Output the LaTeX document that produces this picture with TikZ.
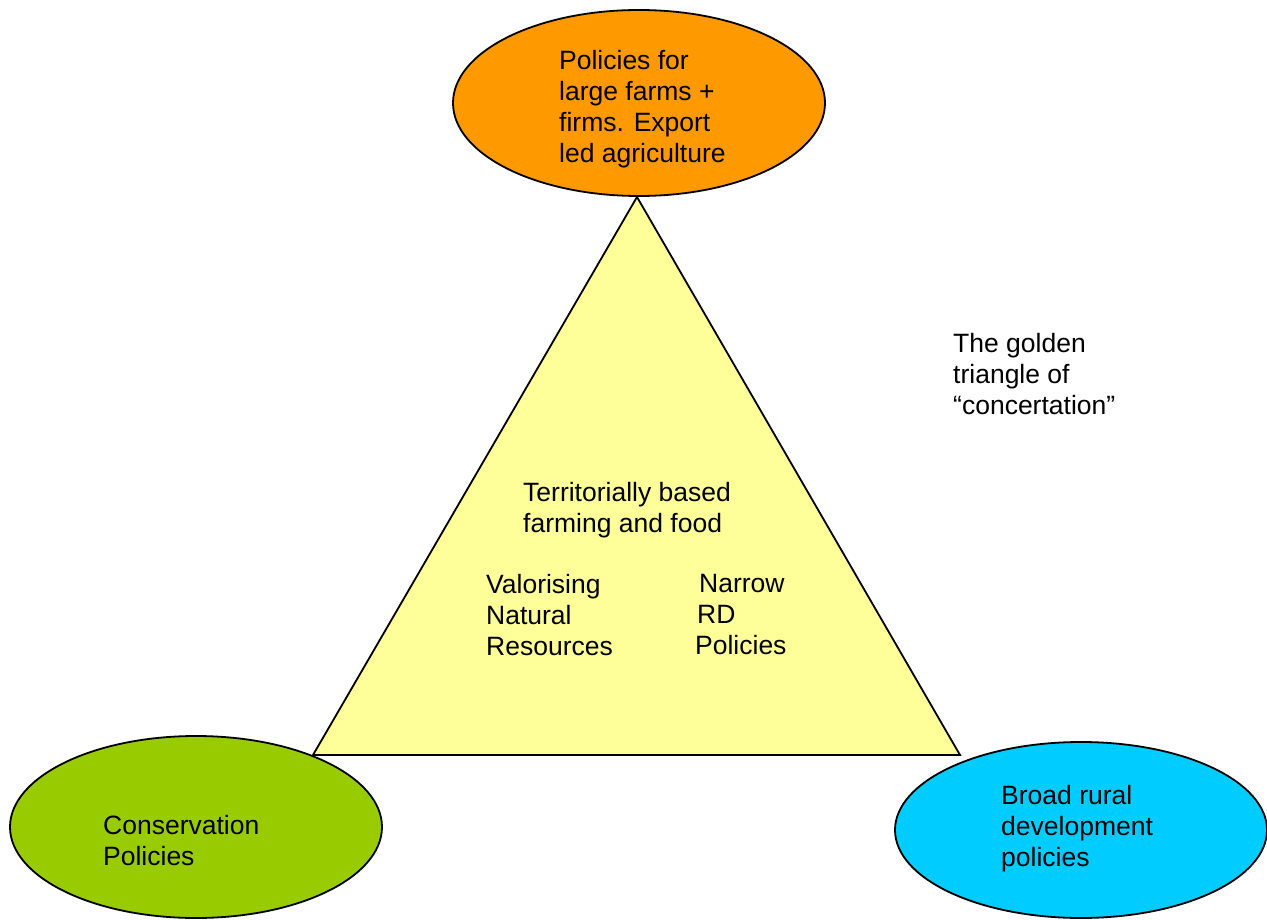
\documentclass[tikz,border=0pt]{standalone}
\usepackage{fontspec}
\setmainfont{Liberation Sans}
\usetikzlibrary{shapes.geometric}
\definecolor{orangefill}{HTML}{FF9900}
\definecolor{yellowfill}{HTML}{FFFF99}
\definecolor{greenfill}{HTML}{99CC00}
\definecolor{bluefill}{HTML}{00CCFF}
\tikzset{
  ell/.style={ellipse, draw=black, line width=1.8pt, inner sep=0pt},
  txt/.style={anchor=north west, inner sep=0pt, align=left,
    font=\fontsize{26.5}{31}\selectfont, text=black}
}
\begin{document}
\begin{tikzpicture}[x=1pt,y=-1pt]
\useasboundingbox (0,0) rectangle (1267,920);
% triangle
\coordinate (apex) at (637,197);
\coordinate (bl) at (313,755);
\coordinate (br) at (960,755);
\draw[fill=yellowfill, line width=1.8pt, line join=miter] (apex) -- (bl) -- (br) -- cycle;
% ellipses
\node[ell, fill=orangefill, minimum width=372pt, minimum height=186pt] (top) at (639,103) {};
\node[ell, fill=greenfill, minimum width=372pt, minimum height=182pt] (left) at (196,827) {};
\node[ell, fill=bluefill, minimum width=372pt, minimum height=176pt] (right) at (1081,830) {};
% texts
\node[txt] (ttop) at (559,50) {Policies for\\large farms +\\firms. Export\\led agriculture};
\node[txt] (tgold) at (953,333) {The golden\\triangle of\\“concertation”};
\node[txt] (tterr) at (523,482) {Territorially based\\farming and food};
\node[txt] (tval) at (486,574) {Valorising\\Natural\\Resources};
\node[txt] (tnar) at (697,574) {\hspace*{2pt}Narrow\\RD\\\hspace*{-2pt}Policies};
\node[txt] (tcons) at (103,815) {Conservation\\Policies};
\node[txt] (tbroad) at (1001,785) {Broad rural\\development\\policies};
\end{tikzpicture}
\end{document}
